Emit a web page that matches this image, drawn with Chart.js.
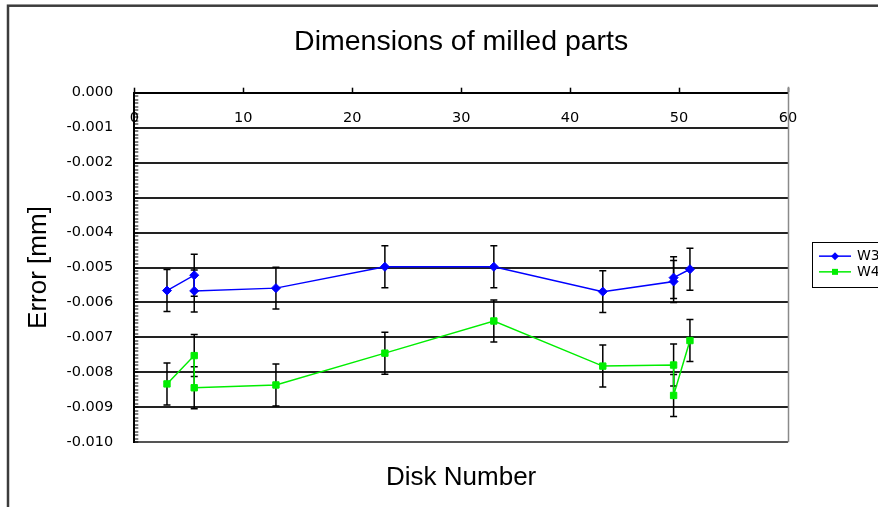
<!DOCTYPE html>
<html>
<head>
<meta charset="utf-8">
<script src="https://cdn.jsdelivr.net/npm/chart.js@4/dist/chart.umd.min.js"></script>
<style>
  html, body { margin: 0; padding: 0; background: #fff; overflow: hidden; }
  #wrap { width: 878px; height: 507px; }
</style>
</head>
<body>
<div id="wrap"><canvas id="c" width="878" height="507"></canvas></div>
<script>
// Measured dimension error per disk, two workpiece series.
const seriesNames = ['W3', 'W4'];

const diskW3   = [3, 5.5, 5.5, 13, 23, 33, 43, 49.5, 49.5, 51];
const errorW3  = [-0.00566, -0.00522, -0.00567, -0.00559, -0.00498, -0.00498, -0.00569, -0.00540, -0.00529, -0.00505];
const spreadW3 = [0.0006, 0.0006, 0.0006, 0.0006, 0.0006, 0.0006, 0.0006, 0.0006, 0.0006, 0.0006];

const diskW4   = [3, 5.5, 5.5, 13, 23, 33, 43, 49.5, 49.5, 51];
const errorW4  = [-0.00833, -0.00752, -0.00844, -0.00836, -0.00745, -0.00653, -0.00782, -0.00779, -0.00866, -0.00709];
const spreadW4 = [0.0006, 0.0006, 0.0006, 0.0006, 0.0006, 0.0006, 0.0006, 0.0006, 0.0006, 0.0006];

const xTickValues = [0, 10, 20, 30, 40, 50, 60];
const yTickValues = [0.000, -0.001, -0.002, -0.003, -0.004, -0.005, -0.006, -0.007, -0.008, -0.009, -0.010];

const TICK_FONT = 'DejaVu Sans';
const TITLE_FONT = 'Liberation Sans';

const isMajor = v => Math.round(v * 10000) % 10 === 0;

// Outer frame around the whole figure
const framePlugin = {
  id: 'frame',
  beforeDraw(chart) {
    const ctx = chart.ctx;
    ctx.save();
    ctx.fillStyle = '#fff';
    ctx.fillRect(0, 0, chart.width, chart.height);
    ctx.strokeStyle = '#3c3c3c';
    ctx.lineWidth = 2.5;
    ctx.strokeRect(8, 5.7, 1200, 1200);
    ctx.restore();
  },
  beforeDatasetsDraw(chart) {
    // right edge of the plot area
    const { ctx, chartArea } = chart;
    ctx.save();
    ctx.strokeStyle = '#8a8a8a';
    ctx.lineWidth = 1.5;
    ctx.beginPath();
    ctx.moveTo(chartArea.right + 0.5, chartArea.top - 6);
    ctx.lineTo(chartArea.right + 0.5, chartArea.bottom);
    ctx.stroke();
    ctx.restore();
  }
};

// Vertical error bars with caps, drawn beneath the series lines
const errorBarPlugin = {
  id: 'errorBars',
  beforeDatasetsDraw(chart) {
    const { ctx, scales: { x, y } } = chart;
    ctx.save();
    ctx.strokeStyle = '#000';
    ctx.lineWidth = 1.5;
    chart.data.datasets.forEach(ds => {
      ds.data.forEach((p, i) => {
        const px = x.getPixelForValue(p.x);
        const top = y.getPixelForValue(p.y + ds.spread[i]);
        const bot = y.getPixelForValue(p.y - ds.spread[i]);
        ctx.beginPath();
        ctx.moveTo(px, top); ctx.lineTo(px, bot);
        ctx.moveTo(px - 3.5, top); ctx.lineTo(px + 3.5, top);
        ctx.moveTo(px - 3.5, bot); ctx.lineTo(px + 3.5, bot);
        ctx.stroke();
      });
    });
    ctx.restore();
  }
};

// Boxed legend to the right of the plot
const legendBoxPlugin = {
  id: 'legendBox',
  afterDraw(chart) {
    const { ctx, chartArea } = chart;
    const left = chartArea.right + 24;
    const midY = (chartArea.top + chartArea.bottom) / 2 - 3.5;
    const rowH = 15.7;
    ctx.save();
    ctx.strokeStyle = '#000';
    ctx.lineWidth = 1;
    ctx.strokeRect(Math.round(left) + 0.5, Math.round(midY - 22.5) + 0.5, 150, 45);
    chart.data.datasets.forEach((ds, i) => {
      const yy = midY - rowH / 2 + i * rowH;
      ctx.strokeStyle = ds.borderColor;
      ctx.fillStyle = ds.backgroundColor;
      ctx.lineWidth = 1.5;
      ctx.beginPath();
      ctx.moveTo(left + 7, yy); ctx.lineTo(left + 39, yy);
      ctx.stroke();
      const cx = left + 23;
      ctx.beginPath();
      if (ds.pointStyle === 'rectRot') {
        ctx.moveTo(cx, yy - 4); ctx.lineTo(cx + 4, yy); ctx.lineTo(cx, yy + 4); ctx.lineTo(cx - 4, yy);
        ctx.closePath();
      } else {
        ctx.rect(cx - 3, yy - 3, 6, 6);
      }
      ctx.fill();
      ctx.fillStyle = '#000';
      ctx.font = '14px "' + TICK_FONT + '"';
      ctx.textBaseline = 'middle';
      ctx.textAlign = 'left';
      ctx.fillText(ds.label, left + 45, yy + 0.5);
    });
    ctx.restore();
  }
};

Chart.defaults.font.family = TICK_FONT;
Chart.defaults.color = '#000';

new Chart(document.getElementById('c'), {
  type: 'scatter',
  data: {
    datasets: [
      {
        label: seriesNames[0],
        data: diskW3.map((d, i) => ({ x: d, y: errorW3[i] })),
        spread: spreadW3,
        showLine: true,
        borderColor: '#0000ff',
        backgroundColor: '#0000ff',
        borderWidth: 1.5,
        pointStyle: 'rectRot',
        pointRadius: 4.5,
        pointBorderWidth: 1
      },
      {
        label: seriesNames[1],
        data: diskW4.map((d, i) => ({ x: d, y: errorW4[i] })),
        spread: spreadW4,
        showLine: true,
        borderColor: '#00ee00',
        backgroundColor: '#00ee00',
        borderWidth: 1.5,
        pointStyle: 'rect',
        pointRadius: 4.5,
        pointBorderWidth: 1
      }
    ]
  },
  options: {
    responsive: false,
    animation: false,
    devicePixelRatio: 1,
    layout: { padding: { left: 0, right: 90, top: 0, bottom: 0 } },
    plugins: {
      legend: { display: false },
      tooltip: { enabled: false },
      title: {
        display: true,
        text: 'Dimensions of milled parts',
        fullSize: false,
        color: '#000',
        font: { family: TITLE_FONT, size: 28.5, weight: 'normal' },
        padding: { top: 25.2, bottom: 4 }
      },
      subtitle: {
        display: true,
        position: 'bottom',
        text: 'Disk Number',
        fullSize: false,
        color: '#000',
        font: { family: TITLE_FONT, size: 26, weight: 'normal' },
        padding: { top: 20.1, bottom: 13.4 }
      }
    },
    scales: {
      x: {
        type: 'linear',
        position: 'top',
        min: xTickValues[0],
        max: xTickValues[xTickValues.length - 1],
        afterBuildTicks: s => { s.ticks = xTickValues.map(v => ({ value: v })); },
        afterFit: s => { s.height = 29.3; },
        grid: { drawOnChartArea: false, drawTicks: true, tickLength: 5, tickColor: '#000', tickWidth: 1.5 },
        border: { color: '#000', width: 2 },
        // labels sit just below the top axis line, inside the plot
        ticks: { mirror: true, padding: 17.3, color: '#000', font: { size: 14.5 }, maxRotation: 0, autoSkip: false }
      },
      y: {
        type: 'linear',
        position: 'left',
        min: yTickValues[yTickValues.length - 1],
        max: yTickValues[0],
        afterFit: s => { s.width = 134.3; },
        ticks: {
          stepSize: 0.0001,
          autoSkip: false,
          padding: 25,
          color: '#000',
          font: { size: 14.5 },
          callback: v => (isMajor(v) ? v.toFixed(3) : '')
        },
        grid: {
          color: c => {
            const v = c.tick ? c.tick.value : 0;
            if (!isMajor(v)) return 'rgba(0,0,0,0)';
            return Math.abs(v - yTickValues[yTickValues.length - 1]) < 1e-7 ? '#555' : '#222';
          },
          lineWidth: c => (c.tick && isMajor(c.tick.value) ? 2 : 0),
          drawTicks: true,
          tickLength: -4,
          tickColor: '#000',
          tickWidth: 1
        },
        border: { color: '#000', width: 2 },
        title: {
          display: true,
          text: 'Error [mm]',
          color: '#000',
          font: { family: TITLE_FONT, size: 26, weight: 'normal' },
          padding: { top: 23.4, bottom: 0 }
        }
      }
    }
  },
  plugins: [framePlugin, errorBarPlugin, legendBoxPlugin]
});
</script>
</body>
</html>
